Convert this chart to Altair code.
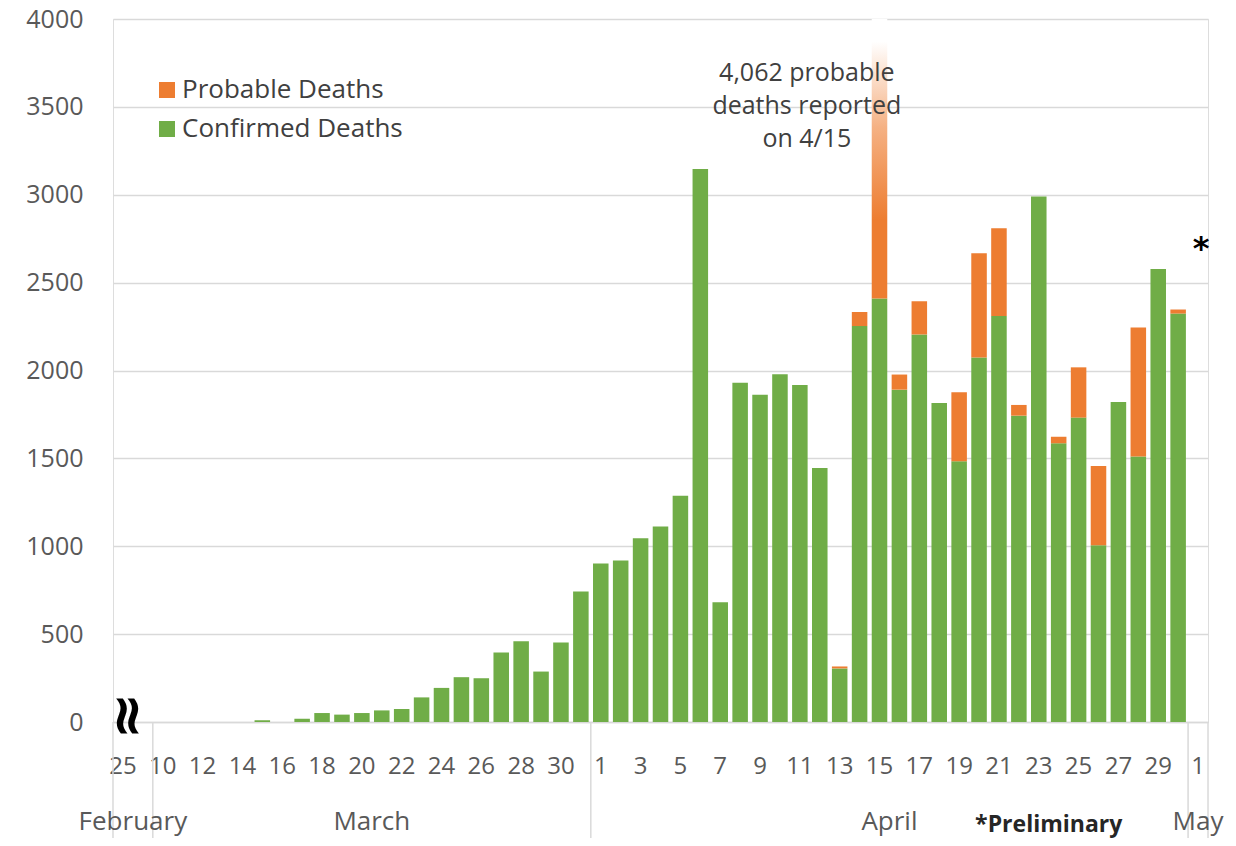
import altair as alt
import pandas as pd

# ---- data -------------------------------------------------------------
categories = (["02-25", "gap"]
              + [f"03-{d:02d}" for d in range(10, 32)]
              + [f"04-{d:02d}" for d in range(1, 31)]
              + ["05-01"])

confirmed = [0, None,
             # March 10 .. 31
             0, 0, 0, 0, 0, 10, 0, 19, 51, 42, 51, 66, 74, 140, 194, 255, 249, 396, 460, 287, 453, 743,
             # April 1 .. 30
             902, 919, 1045, 1112, 1287, 3147, 681, 1931, 1862, 1979,
             1918, 1445, 305, 2253, 2409, 1891, 2205, 1815, 1484, 2074,
             2310, 1743, 2990, 1586, 1732, 1005, 1821, 1510, 2577, 2324,
             None]

probable = [0, None,
            0, 0, 0, 0, 0, 0, 0, 0, 0, 0, 0, 0, 0, 0, 0, 0, 0, 0, 0, 0, 0, 0,
            0, 0, 0, 0, 0, 0, 0, 0, 0, 0, 0, 0,
            11, 80, 4062, 86, 189, 0, 392, 593, 499, 61, 0, 37, 286, 452, 0, 734, 0, 23,
            None]

series_names = ["Probable Deaths", "Confirmed Deaths"]
series_colors = ["#ED7D31", "#70AD47"]

annotation_lines = ["4,062 probable", "deaths reported", "on 4/15"]
annotation_key = ["04-11"]
annotation_y = [3694]

month_names = ["February", "March", "April"]
month_keys = ["gap", "03-21", "04-16"]
separator_keys = ["02-25", "03-10", "04-01", "05-01"]

rows = []
for k, c, p in zip(categories, confirmed, probable):
    if c is None:
        continue
    rows.append({"key": k, "series": "Confirmed Deaths", "start": 0, "end": c})
    if p:
        rows.append({"key": k, "series": "Probable Deaths", "start": c, "end": c + p})
df = pd.DataFrame(rows)

FONT = "Open Sans"
W, H = 1095, 703
TOP = 11
HALF_GAP = 2.2  # half of the inner band padding, in pixels

xscale = alt.Scale(domain=categories, paddingInner=0.22, paddingOuter=0.11)
yscale = alt.Scale(domain=[0, 4000], nice=False)

xaxis = alt.Axis(
    title=None, values=categories[::2], labelAngle=0,
    labelExpr="datum.value == 'gap' ? '' : '' + toNumber(split(datum.value, '-')[1])",
    labelFontSize=24, labelColor="#595959", labelFont=FONT, labelPadding=32,
    ticks=False, domainColor="#d9d9d9", domainWidth=1.5, grid=False,
)
yaxis = alt.Axis(
    title=None, values=list(range(0, 4001, 500)), format="d",
    labelFontSize=25, labelColor="#595959", labelFont=FONT, labelPadding=30,
    ticks=False, domain=False, grid=True, gridColor="#d9d9d9", gridWidth=1.5,
)

base = alt.Chart(df)

bars = base.transform_filter(
    "!(datum.key == '04-15' && datum.series == 'Probable Deaths')"
).mark_bar(clip=True).encode(
    x=alt.X("key:N", scale=xscale, axis=xaxis, sort=categories),
    y=alt.Y("end:Q", scale=yscale, axis=yaxis),
    y2="start:Q",
    color=alt.Color(
        "series:N",
        scale=alt.Scale(domain=series_names, range=series_colors),
        legend=alt.Legend(
            title=None, orient="none", legendX=41, legendY=58,
            symbolType="square", symbolSize=256, symbolStrokeWidth=0,
            labelFontSize=26, labelColor="#404040", labelFont=FONT, labelLimit=0,
            labelExpr="datum.label == 'Probable Deaths' ? '\u00a0Probable Deaths' : datum.label",
            rowPadding=13, labelOffset=2, padding=0,
        ),
    ),
)

fade = base.transform_filter(
    "datum.key == '04-15' && datum.series == 'Probable Deaths'"
).mark_bar(
    clip=True,
    fill=alt.LinearGradient(
        gradient="linear",
        stops=[
            alt.GradientStop(color="#ED7D31", offset=0),
            alt.GradientStop(color="#ED7D31", offset=0.11),
            alt.GradientStop(color="#F5B183", offset=0.24),
            alt.GradientStop(color="#FFFFFF", offset=0.36),
            alt.GradientStop(color="#FFFFFF", offset=1),
        ],
        x1=0, x2=0, y1=1, y2=0,
    ),
).encode(x="key:N", y="end:Q", y2="start:Q")

annot = alt.Chart(pd.DataFrame({"key": annotation_key, "y": annotation_y})).mark_text(
    text=annotation_lines, font=FONT, fontSize=25, color="#404040",
    align="center", baseline="middle", lineHeight=33, dx=7,
).encode(x="key:N", y="y:Q")

star = alt.Chart(pd.DataFrame({"key": ["05-01"], "y": [2690]})).mark_text(
    text="*", font="DejaVu Sans", fontSize=32, fontWeight="bold", color="#000000",
    align="center", baseline="middle", dx=3,
).encode(x="key:N", y="y:Q")

brk = alt.Chart(pd.DataFrame({"key": ["02-25"], "y": [0]})).mark_text(
    text="≈", font="DejaVu Sans", fontSize=56, fontWeight="bold", color="#000000",
    angle=90, align="center", baseline="middle", dx=-6, dy=-4,
).encode(x="key:N", y="y:Q")

sep_start = alt.Chart(pd.DataFrame({"key": separator_keys})).mark_rule(
    color="#d9d9d9", strokeWidth=1.5, xOffset=-HALF_GAP
).encode(
    x=alt.X("key:N", bandPosition=0),
    y=alt.value(H), y2=alt.value(H + 116),
)
sep_end = alt.Chart(pd.DataFrame({"key": ["05-01"]})).mark_rule(
    color="#d9d9d9", strokeWidth=1.5, xOffset=HALF_GAP
).encode(
    x=alt.X("key:N", bandPosition=1),
    y=alt.value(H), y2=alt.value(H + 116),
)

months = alt.Chart(pd.DataFrame({"key": month_keys, "name": month_names})).mark_text(
    font=FONT, fontSize=26, color="#595959", align="center", baseline="middle", dx=-HALF_GAP,
).encode(x=alt.X("key:N", bandPosition=0), y=alt.value(H + 100), text="name:N")

may = alt.Chart(pd.DataFrame({"key": ["05-01"], "name": ["May"]})).mark_text(
    font=FONT, fontSize=26, color="#595959", align="center", baseline="middle",
).encode(x=alt.X("key:N", bandPosition=0.5), y=alt.value(H + 100), text="name:N")

prelim = alt.Chart(pd.DataFrame({"key": ["04-24"], "name": ["*Preliminary"]})).mark_text(
    font=FONT, fontSize=23, fontWeight="bold", color="#262626", align="center", baseline="middle",
    dx=-HALF_GAP,
).encode(x=alt.X("key:N", bandPosition=0), y=alt.value(H + 103), text="name:N")

chart = alt.layer(
    bars, fade, sep_start, sep_end, months, may, prelim, annot, star, brk
).properties(
    width=W, height=H,
    autosize=alt.AutoSizeParams(type="none"),
    padding={"left": 105, "top": TOP, "right": 20, "bottom": 116},
).configure_view(stroke=None).configure(background="white")

chart.save("out.html", embed_options={"renderer": "svg", "actions": False})
